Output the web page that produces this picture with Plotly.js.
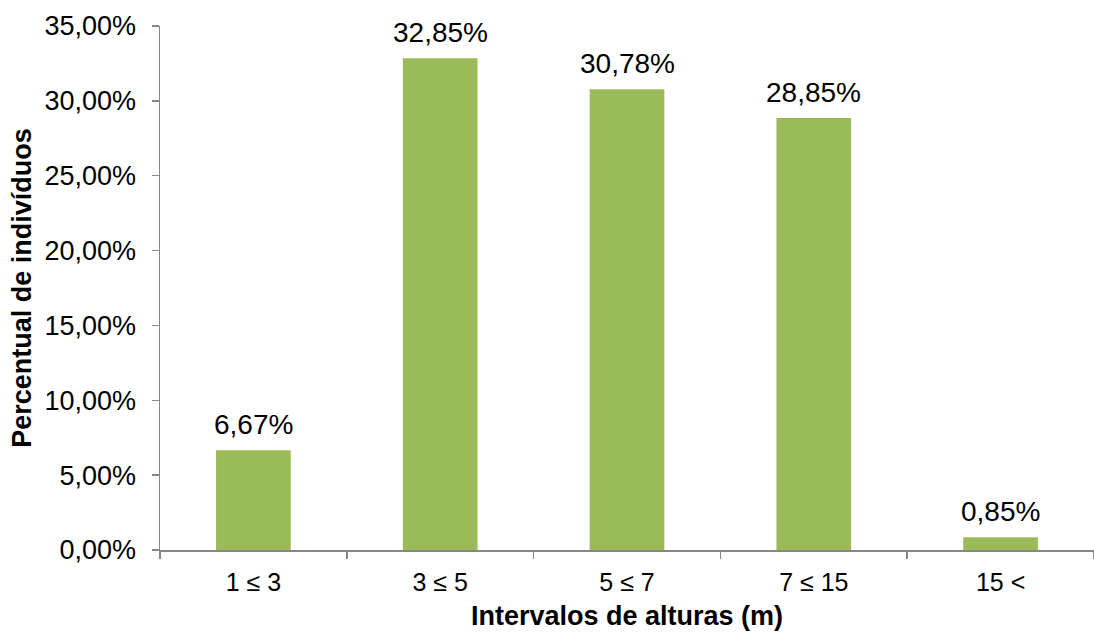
<!DOCTYPE html>
<html>
<head>
<meta charset="utf-8">
<script src="https://cdn.plot.ly/plotly-3.0.1.min.js"></script>
<style>
  html, body { margin: 0; padding: 0; background: #fff; }
  #chart { width: 1094px; height: 635px; }
</style>
</head>
<body>
<div id="chart"></div>
<script>
const categories = ["1 ≤ 3", "3 ≤ 5", "5 ≤ 7", "7 ≤ 15", "15 <"];
const percentages = [6.67, 32.85, 30.78, 28.85, 0.85];
const yTickValues = [0, 5, 10, 15, 20, 25, 30, 35];
const yTickLabels = ["0,00%", "5,00%", "10,00%", "15,00%", "20,00%", "25,00%", "30,00%", "35,00%"];

const font = "Liberation Sans, Arial, sans-serif";

const trace = {
  type: "bar",
  x: categories,
  y: percentages,
  marker: { color: "#9BBB59" },
  cliponaxis: false,
  hoverinfo: "x+y"
};

const labelAnnotations = categories.map((c, i) => ({
  x: c,
  y: percentages[i],
  xref: "x",
  yref: "y",
  text: percentages[i].toFixed(2).replace(".", ",") + "%",
  showarrow: false,
  xanchor: "center",
  yanchor: "bottom",
  yshift: 8,
  font: { family: font, size: 28, color: "#000" }
}));

const layout = {
  width: 1094,
  height: 635,
  separators: ",.",
  margin: { l: 160, r: 0, t: 26, b: 85 },
  paper_bgcolor: "#fff",
  plot_bgcolor: "#fff",
  bargap: 0.6,
  showlegend: false,
  font: { family: font, color: "#000" },
  annotations: labelAnnotations,
  xaxis: {
    type: "category",
    showline: true,
    linecolor: "#868686",
    linewidth: 1.5,
    ticks: "outside",
    tickson: "boundaries",
    ticklen: 7,
    tickcolor: "#868686",
    tickwidth: 1.5,
    showgrid: false,
    zeroline: false,
    tickfont: { family: font, size: 25, color: "#000" },
    ticklabelstandoff: 9,
    automargin: false,
    title: {
      text: "Intervalos de alturas (m)",
      font: { family: font, size: 27, color: "#000", weight: "bold" },
      standoff: 11
    }
  },
  yaxis: {
    range: [0, 35],
    tickvals: yTickValues,
    ticktext: yTickLabels,
    showline: true,
    linecolor: "#868686",
    linewidth: 1.5,
    ticks: "outside",
    ticklen: 7,
    tickcolor: "#868686",
    tickwidth: 1.5,
    showgrid: false,
    zeroline: false,
    tickfont: { family: font, size: 27, color: "#000" },
    ticklabelstandoff: 10,
    automargin: false,
    title: {
      text: "Percentual de indivíduos",
      font: { family: font, size: 27, color: "#000", weight: "bold" },
      standoff: 5
    }
  }
};

Plotly.newPlot("chart", [trace], layout, { displayModeBar: false, staticPlot: true });
</script>
</body>
</html>
